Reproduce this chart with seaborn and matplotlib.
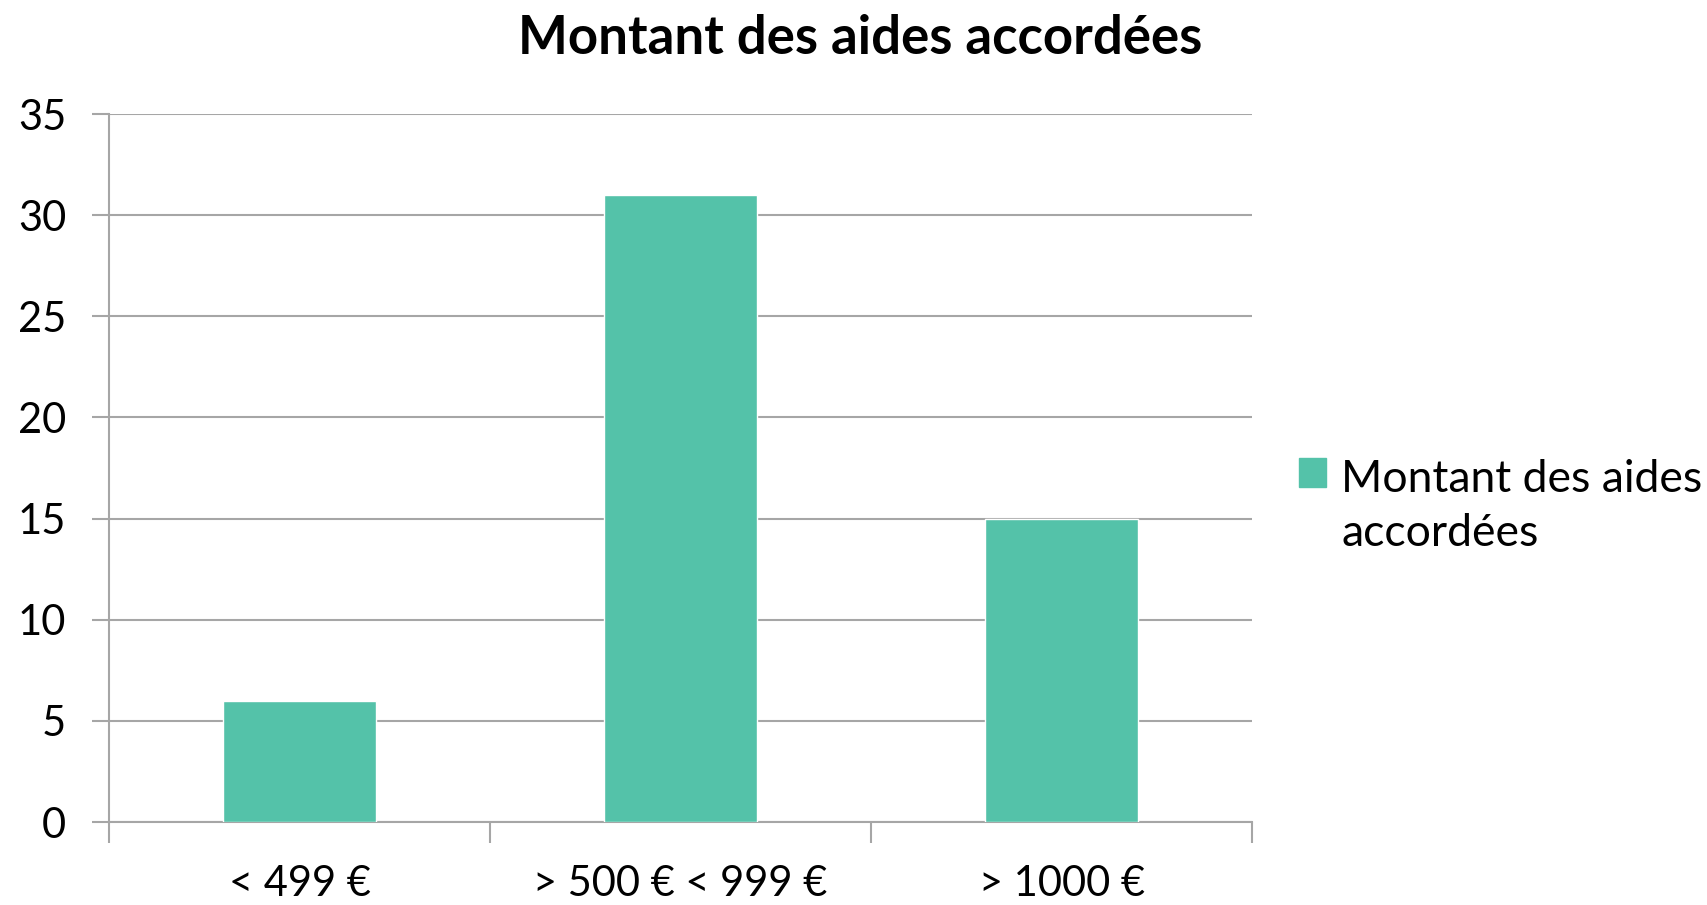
import pandas as pd
import numpy as np
import seaborn as sns
import matplotlib.pyplot as plt
import matplotlib.patches as mpatches
from matplotlib.legend_handler import HandlerPatch

# data
categories = ['< 499 €', '> 500 € < 999 €', '> 1000 €']
montants = [6, 31, 15]
serie = 'Montant des aides\naccordées'
bar_color = '#54C2A9'

df = pd.DataFrame({'Tranche': categories, 'Nombre': montants})

sns.set_style('white')
plt.rcParams['font.family'] = ['Lato', 'DejaVu Sans']
plt.rcParams['text.color'] = 'black'
plt.rcParams['xtick.color'] = 'black'
plt.rcParams['ytick.color'] = 'black'

fig = plt.figure(figsize=(17.07, 9.05), dpi=100)
ax = fig.add_axes([0.0639, 0.0917, 0.6696, 0.7823])

sns.barplot(data=df, x='Tranche', y='Nombre', color=bar_color, width=0.4,
            saturation=1, ax=ax, zorder=3)

grey = '#A6A6A6'
ax.set_xlim(-0.5, 2.5)
ax.set_ylim(0, 35)
ax.set_yticks(np.arange(0, 36, 5))
ax.yaxis.grid(True, color=grey, linewidth=1.5, zorder=0)
ax.set_axisbelow(True)

# category boundary ticks
ax.set_xticks([-0.5, 0.5, 1.5, 2.5], minor=True)
ax.tick_params(axis='x', which='major', bottom=True, length=0, pad=31, labelsize=30, labelcolor='black')
ax.tick_params(axis='x', which='minor', bottom=True, length=15, width=1.5, color=grey, direction='out')
ax.tick_params(axis='y', left=True, length=12, width=1.5, color=grey, direction='out',
               labelsize=30, pad=19, labelcolor='black')

for s in ['top', 'right']:
    ax.spines[s].set_visible(False)
for s in ['left', 'bottom']:
    ax.spines[s].set_color(grey)
    ax.spines[s].set_linewidth(1.5)

ax.set_xlabel('')
ax.set_ylabel('')
fig.text(0.504, 0.958, 'Montant des aides accordées', fontsize=38, fontweight='bold',
         ha='center', va='center')

leg_fs = 32


# square next to the first line of the wrapped label
def top_square(legend, orig_handle, xdescent, ydescent, width, height, fontsize):
    return mpatches.Rectangle((-xdescent, -ydescent + 0.78 * fontsize), width, height)


handle = mpatches.Patch(color=bar_color, label=serie)
leg = ax.legend(handles=[handle], loc='center left', bbox_to_anchor=(1.006, 0.446), frameon=False,
                fontsize=leg_fs, handlelength=0.6, handleheight=0.6, handletextpad=0.35,
                handler_map={mpatches.Patch: HandlerPatch(patch_func=top_square)})
leg.get_texts()[0].set_linespacing(1.38)

fig.savefig('out.png', dpi=100)
